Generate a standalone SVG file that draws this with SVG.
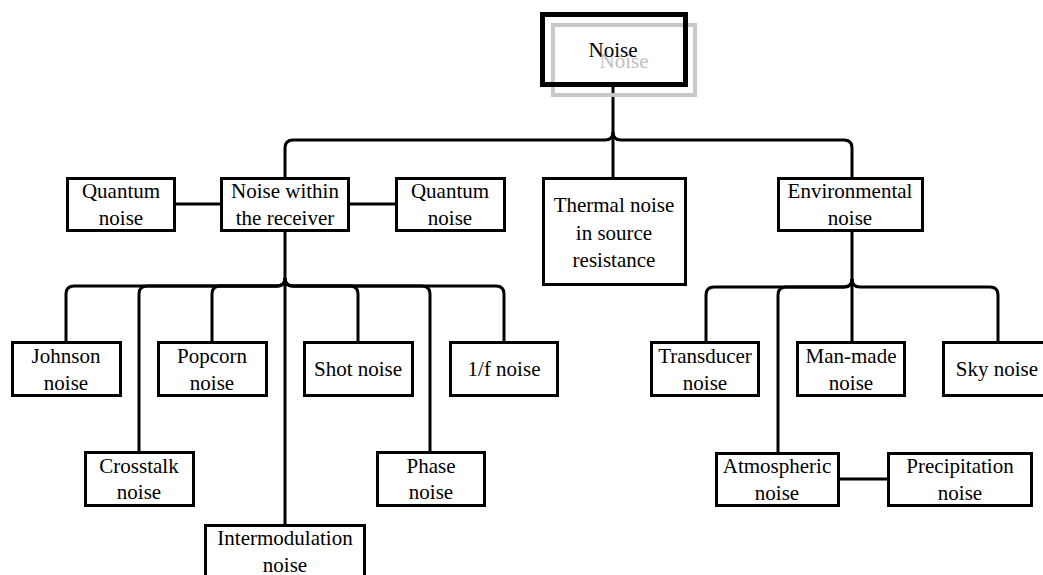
<svg xmlns="http://www.w3.org/2000/svg" width="1043" height="575" viewBox="0 0 1043 575">
<style>
.box{fill:#fff;stroke:#000;stroke-width:3}
.t{font-family:"Liberation Serif","DejaVu Serif","Times New Roman",serif;font-size:21px;fill:#000;text-anchor:middle}
.c{fill:none;stroke:#000;stroke-width:3}
</style>
<rect width="1043" height="575" fill="#fff"/>
<g id="connectors">
<path class="c" d="M613,85 V177"/>
<path class="c" d="M613,132 Q613,140 605,140 H293 Q285,140 285,148 V177"/>
<path class="c" d="M613,132 Q613,140 621,140 H844 Q852,140 852,148 V177"/>
<path class="c" d="M176,204 H220 M350,204 H395"/>
<path class="c" d="M285,232 V524"/>
<path class="c" d="M285,278 Q285,286 277,286 H74 Q66,286 66,294 V341"/>
<path class="c" d="M285,278 Q285,286 277,286 H147 Q139,286 139,294 V451"/>
<path class="c" d="M285,278 Q285,286 277,286 H220 Q212,286 212,294 V341"/>
<path class="c" d="M285,278 Q285,286 293,286 H350 Q358,286 358,294 V341"/>
<path class="c" d="M285,278 Q285,286 293,286 H422 Q430,286 430,294 V451"/>
<path class="c" d="M285,278 Q285,286 293,286 H496 Q504,286 504,294 V341"/>
<path class="c" d="M852,232 V341"/>
<path class="c" d="M852,279 Q852,287 844,287 H714 Q706,287 706,295 V341"/>
<path class="c" d="M852,279 Q852,287 844,287 H786 Q778,287 778,295 V452"/>
<path class="c" d="M852,279 Q852,287 860,287 H990 Q998,287 998,295 V341"/>
<path class="c" d="M840,479 H887"/>
</g>
<g id="noise">
<rect x="553" y="25" width="142" height="70" fill="none" stroke="#c8c8c8" stroke-width="4"/>
<text x="624" y="68" font-family="Liberation Serif, DejaVu Serif, serif" font-size="21" text-anchor="middle" fill="#c0c0c0">Noise</text>
<rect x="542.5" y="14.5" width="143" height="70" fill="none" stroke="#000" stroke-width="5"/>
<text x="613" y="57" class="t" font-family="Liberation Serif, DejaVu Serif, serif">Noise</text>
</g>
<g font-family="Liberation Serif, DejaVu Serif, serif">
<g id="quantum1"><rect class="box" x="67.5" y="178.5" width="107" height="52"/><text class="t" x="121" y="198">Quantum</text><text class="t" x="121" y="225">noise</text></g>
<g id="receiver"><rect class="box" x="221.5" y="178.5" width="127" height="52"/><text class="t" x="285" y="198">Noise within</text><text class="t" x="285" y="225">the receiver</text></g>
<g id="quantum2"><rect class="box" x="396.5" y="178.5" width="108" height="52"/><text class="t" x="450" y="198">Quantum</text><text class="t" x="450" y="225">noise</text></g>
<g id="thermal"><rect class="box" x="543.5" y="178.5" width="142" height="106"/><text class="t" x="614" y="212">Thermal noise</text><text class="t" x="614" y="240">in source</text><text class="t" x="614" y="267">resistance</text></g>
<g id="environmental"><rect class="box" x="778.5" y="178.5" width="144" height="52"/><text class="t" x="850" y="198">Environmental</text><text class="t" x="850" y="225">noise</text></g>
<g id="johnson"><rect class="box" x="12.5" y="342.5" width="108" height="53"/><text class="t" x="66" y="363">Johnson</text><text class="t" x="66" y="390">noise</text></g>
<g id="popcorn"><rect class="box" x="158.5" y="342.5" width="108" height="53"/><text class="t" x="212" y="363">Popcorn</text><text class="t" x="212" y="390">noise</text></g>
<g id="shot"><rect class="box" x="304.5" y="342.5" width="108" height="53"/><text class="t" x="358" y="376">Shot noise</text></g>
<g id="onef"><rect class="box" x="450.5" y="342.5" width="107" height="53"/><text class="t" x="504" y="376">1/f noise</text></g>
<g id="crosstalk"><rect class="box" x="85.5" y="452.5" width="108" height="53"/><text class="t" x="139" y="473">Crosstalk</text><text class="t" x="139" y="499">noise</text></g>
<g id="phase"><rect class="box" x="377.5" y="452.5" width="107" height="53"/><text class="t" x="431" y="473">Phase</text><text class="t" x="431" y="499">noise</text></g>
<g id="intermodulation"><rect class="box" x="205.5" y="525.5" width="159" height="63"/><text class="t" x="285" y="545">Intermodulation</text><text class="t" x="285" y="572">noise</text></g>
<g id="transducer"><rect class="box" x="651.5" y="342.5" width="107" height="53"/><text class="t" x="705" y="363">Transducer</text><text class="t" x="705" y="390">noise</text></g>
<g id="manmade"><rect class="box" x="797.5" y="342.5" width="107" height="53"/><text class="t" x="851" y="363">Man-made</text><text class="t" x="851" y="390">noise</text></g>
<g id="sky"><rect class="box" x="943.5" y="342.5" width="107" height="53"/><text class="t" x="997" y="376">Sky noise</text></g>
<g id="atmospheric"><rect class="box" x="716.5" y="453.5" width="122" height="52"/><text class="t" x="777" y="473">Atmospheric</text><text class="t" x="777" y="500">noise</text></g>
<g id="precipitation"><rect class="box" x="888.5" y="453.5" width="143" height="52"/><text class="t" x="960" y="473">Precipitation</text><text class="t" x="960" y="500">noise</text></g>
</g>
</svg>
